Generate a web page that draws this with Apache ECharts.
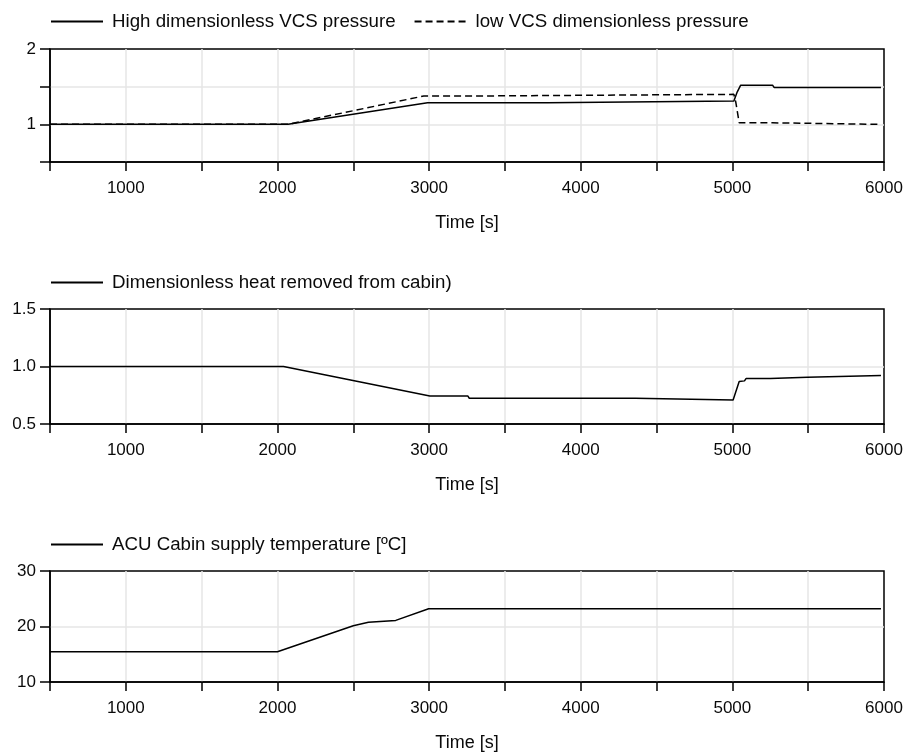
<!DOCTYPE html>
<html>
<head>
<meta charset="utf-8">
<script src="https://cdn.jsdelivr.net/npm/echarts@6/dist/echarts.min.js"></script>
<style>
  html, body { margin: 0; padding: 0; background: #fff; }
  #main { width: 906px; height: 753px; }
</style>
</head>
<body>
<div id="main"></div>
<script>
// time [s] / value pairs
const highPressure = [
  [500, 1], [2070, 1], [2990, 1.287], [3780, 1.287], [3790, 1.31],
  [5010, 1.31], [5030, 1.42], [5055, 1.52], [5265, 1.52], [5275, 1.49], [5980, 1.49],
];
const lowPressure = [
  [500, 1], [2070, 1], [2965, 1.376], [3300, 1.376], [3310, 1.398],
  [5010, 1.398], [5022, 1.3], [5045, 1.02], [5265, 1.02], [5275, 1.0], [5980, 1.0],
];
const heatRemoved = [
  [500, 1], [2040, 1], [3005, 0.744], [3255, 0.744], [3265, 0.724],
  [4360, 0.724], [4370, 0.709], [5005, 0.709], [5045, 0.869], [5080, 0.875],
  [5090, 0.895], [5250, 0.895], [5258, 0.907], [5495, 0.907], [5500, 0.921], [5980, 0.921],
];
const supplyTemp = [
  [500, 15.45], [2000, 15.45], [2500, 20.15], [2600, 20.75], [2780, 21.1],
  [2997, 23.2], [5980, 23.2],
];

const names = [
  "High dimensionless VCS pressure",
  "low VCS dimensionless pressure",
  "Dimensionless heat removed from cabin)",
  "ACU Cabin supply temperature [ºC]",
];
const yRanges = [
  { min: 0.5, max: 2, interval: 0.5 },
  { min: 0.5, max: 1.5, interval: 0.5 },
  { min: 10, max: 30, interval: 10 },
];
const gridTops = [49, 309, 571];
const gridHeights = [113, 115, 113];

const font = "'Liberation Sans', Arial, sans-serif";
const ink = "#0a0a0a";

const grids = gridTops.map((t, i) => ({
  left: 50,
  right: 22,
  top: t,
  height: gridHeights[i],
  show: true,
  borderColor: "#000",
  borderWidth: 1.5,
}));

const splitStyle = {
  showMinLine: false,
  showMaxLine: false,
  lineStyle: { color: "#e6e6e6", width: 1.5 },
};

const xAxes = gridTops.map((t, i) => ({
  type: "value",
  gridIndex: i,
  min: 500,
  max: 6000,
  interval: 500,
  name: "Time [s]",
  nameLocation: "middle",
  nameGap: 52,
  nameTextStyle: { fontFamily: font, fontSize: 18, color: ink },
  axisLine: { lineStyle: { color: "#000", width: 1.5 } },
  axisTick: { length: 9, lineStyle: { color: "#000", width: 1.5 } },
  axisLabel: {
    margin: 18,
    fontFamily: font,
    fontSize: 17,
    color: ink,
    formatter: v => (v % 1000 === 0 ? String(v) : ""),
  },
  splitLine: splitStyle,
}));

const yAxes = yRanges.map((r, i) => ({
  type: "value",
  gridIndex: i,
  min: r.min,
  max: r.max,
  interval: r.interval,
  axisLine: { show: true, lineStyle: { color: "#000", width: 1.5 } },
  axisTick: { show: true, length: 10, lineStyle: { color: "#000", width: 1.5 } },
  axisLabel: {
    margin: 14,
    fontFamily: font,
    fontSize: 17,
    color: ink,
    formatter: v => {
      if (i === 0) return Number.isInteger(v) ? String(v) : "";
      if (i === 1) return v.toFixed(1);
      return String(v);
    },
  },
  splitLine: splitStyle,
}));

function lineSeries(name, data, idx, dashed) {
  return {
    name: name,
    type: "line",
    xAxisIndex: idx,
    yAxisIndex: idx,
    data: data,
    symbol: "none",
    lineStyle: { color: "#000", width: 1.5, type: dashed ? [7, 4] : "solid" },
    itemStyle: { color: "#000" },
  };
}

const legendBase = {
  left: 50,
  padding: 0,
  itemWidth: 52,
  itemHeight: 18,
  itemGap: 18,
  itemStyle: { opacity: 0 },
  textStyle: { fontFamily: font, fontSize: 18.7, color: ink, padding: [0, 0, 0, 4] },
};

const option = {
  animation: false,
  backgroundColor: "#fff",
  legend: [
    Object.assign({}, legendBase, { top: 12, data: [names[0], names[1]] }),
    Object.assign({}, legendBase, { top: 273, data: [names[2]] }),
    Object.assign({}, legendBase, { top: 535, data: [names[3]] }),
  ],
  grid: grids,
  xAxis: xAxes,
  yAxis: yAxes,
  series: [
    lineSeries(names[0], highPressure, 0, false),
    lineSeries(names[1], lowPressure, 0, true),
    lineSeries(names[2], heatRemoved, 1, false),
    lineSeries(names[3], supplyTemp, 2, false),
  ],
};

const myChart = echarts.init(document.getElementById("main"));
myChart.setOption(option);
window.addEventListener("resize", () => {
  myChart.resize();
});
</script>
</body>
</html>
